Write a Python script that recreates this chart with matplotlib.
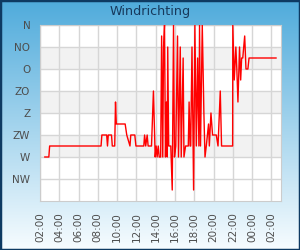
import numpy as np
import matplotlib
matplotlib.use("Agg")
from matplotlib import pyplot as plt
from matplotlib.patches import Rectangle

# tijd in minuten vanaf 00:00 van de eerste dag, richting in graden
minuten = [150, 175, 180, 500, 505, 535, 540, 545, 565, 570, 585, 590, 595,
           650, 660, 680, 685, 710, 717, 766, 771, 778, 787, 793, 814, 826,
           837, 843, 849, 856, 862, 871, 877, 884, 889, 895, 901, 907, 912,
           915, 921, 934, 943, 951, 957, 965, 976, 982, 993, 999, 1011, 1016,
           1026, 1043, 1048, 1054, 1058, 1066, 1076, 1084, 1093, 1101, 1109,
           1113, 1119, 1130, 1140, 1147, 1155, 1169, 1174, 1184, 1194, 1217,
           1228, 1242, 1250, 1319, 1320, 1329, 1339, 1345, 1352, 1362, 1369,
           1375, 1382, 1394, 1402, 1414, 1421, 1589]
richting = [270, 270, 247.5, 247.5, 225, 225, 247.5, 225, 225, 247.5, 247.5,
            157.5, 202.5, 202.5, 225, 247.5, 225, 225, 247.5, 247.5, 225,
            247.5, 225, 247.5, 247.5, 135, 270, 247.5, 270, 247.5, 270, 270,
            22.5, 270, 45, 0, 270, 157.5, 270, 45, 247.5, 247.5, 337.5, 0,
            270, 247.5, 22.5, 270, 45, 270, 67.5, 270, 247.5, 247.5, 157.5,
            247.5, 247.5, 45, 337.5, 0, 247.5, 67.5, 247.5, 0, 247.5, 0, 180,
            270, 247.5, 202.5, 247.5, 180, 225, 225, 247.5, 135, 247.5, 247.5,
            0, 112.5, 45, 90, 157.5, 45, 112.5, 67.5, 67.5, 22.5, 90, 90,
            67.5, 67.5]

windstreken = ["N", "NO", "O", "ZO", "Z", "ZW", "W", "NW"]
tijd_labels = ["02:00", "04:00", "06:00", "08:00", "10:00", "12:00", "14:00",
               "16:00", "18:00", "20:00", "22:00", "00:00", "02:00"]

fig = plt.figure(figsize=(3, 2.5), dpi=100)

# achtergrond met verloop
bg = fig.add_axes([0, 0, 1, 1], zorder=0)
top = np.array([0.31, 0.67, 0.86])
bottom = np.array([0.97, 0.99, 1.0])
t = np.linspace(0, 1, 256)[:, None]
grad = top + (bottom - top) * t
bg.imshow(grad[:, None, :].repeat(2, axis=1), aspect="auto", extent=[0, 1, 0, 1])
bg.add_patch(Rectangle((0, 0), 1, 1, transform=bg.transAxes, fill=False,
                       edgecolor="#0e3a62", linewidth=2.5))
bg.set_axis_off()

ax = fig.add_axes([40 / 300, 1 - 201 / 250, 241 / 300, 176 / 250], zorder=1)
ax.set_facecolor("white")

# banden
for i in range(len(windstreken)):
    if i % 2 == 1 and i < 7:
        ax.axhspan(i * 45, (i + 1) * 45, color="#f2f2f2", zorder=0, lw=0)

ax.plot(minuten, richting, color="red", linewidth=1, zorder=3)

ax.set_ylim(360, 0)
ax.set_yticks([i * 45 for i in range(len(windstreken))])
ax.set_yticklabels(windstreken)
ax.set_xlim(120, 1620)
ax.set_xticks([120 * (i + 1) for i in range(len(tijd_labels))])
ax.set_xticklabels(tijd_labels, rotation=90)

ax.grid(True, color="#d6d6d6", linewidth=1, zorder=1)
ax.set_axisbelow(True)
ax.tick_params(axis="both", length=0, labelsize=7.5, labelcolor="#4d4d4d")
ax.tick_params(axis="x", pad=8)
ax.tick_params(axis="y", pad=7)
for s in ax.spines.values():
    s.set_color("#cccccc")

fig.text(0.5, 1 - 12 / 250, "Windrichting", ha="center", va="center",
         fontsize=9.2, color="#17395c")

fig.savefig("out.png", dpi=100)
